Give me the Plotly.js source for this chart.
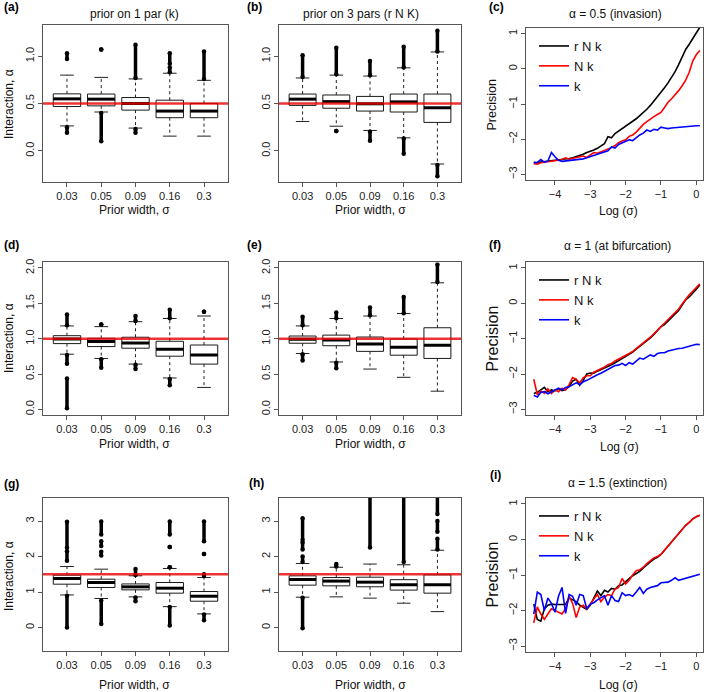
<!DOCTYPE html>
<html><head><meta charset="utf-8">
<script src="https://cdn.plot.ly/plotly-3.0.1.min.js"></script>
<style>html,body{margin:0;padding:0;background:#fff}#chart{width:709px;height:692px}</style>
</head><body><div id="chart"></div>
<script>
// ---------- DATA ----------
const priorWidths = ['0.03','0.05','0.09','0.16','0.3'];

// (a) prior on 1 par (k), alpha = 0.5
const a_q1  = [0.468, 0.475, 0.430, 0.350, 0.350];
const a_med = [0.549, 0.546, 0.500, 0.420, 0.420];
const a_q3  = [0.602, 0.600, 0.563, 0.535, 0.500];
const a_lo  = [0.263, 0.410, 0.240, 0.155, 0.155];
const a_hi  = [0.800, 0.776, 0.760, 0.820, 0.745];
const a_outCat  = [0, 0, 1, 1, 2, 2, 3, 3, 4];
const a_outFrom = [0.97, 0.19, 1.07, 0.10, 0.77, 0.19, 0.92, 0.83, 0.76];
const a_outTo   = [1.03, 0.25, 1.07, 0.40, 1.12, 0.23, 1.03, 0.88, 1.05];

// (b) prior on 3 pars (r N K), alpha = 0.5
const b_q1  = [0.480, 0.450, 0.420, 0.410, 0.300];
const b_med = [0.546, 0.520, 0.497, 0.517, 0.455];
const b_q3  = [0.600, 0.590, 0.575, 0.600, 0.600];
const b_lo  = [0.310, 0.260, 0.215, 0.137, -0.140];
const b_hi  = [0.770, 0.800, 0.790, 0.877, 1.045];
const b_outCat  = [0, 1, 1, 2, 2, 3, 3, 4, 4];
const b_outFrom = [0.78, 0.81, 0.21, 0.80, 0.105, 0.88, -0.03, 1.05, -0.27];
const b_outTo   = [1.01, 1.09, 0.21, 0.95, 0.20, 1.10, 0.13, 1.27, -0.15];

// (d) prior on 1 par, alpha = 1
const d_q1  = [0.930, 0.888, 0.865, 0.752, 0.640];
const d_med = [0.995, 0.960, 0.940, 0.850, 0.770];
const d_q3  = [1.042, 1.005, 1.020, 0.963, 0.910];
const d_lo  = [0.780, 0.720, 0.640, 0.444, 0.310];
const d_hi  = [1.180, 1.170, 1.240, 1.285, 1.320];
const d_outCat  = [0, 0, 0, 1, 1, 2, 2, 3, 3, 4];
const d_outFrom = [1.19, 0.645, 0.015, 1.20, 0.59, 1.25, 0.57, 1.29, 0.34, 1.38];
const d_outTo   = [1.34, 0.77, 0.435, 1.20, 0.71, 1.32, 0.63, 1.41, 0.43, 1.38];

// (e) prior on 3 pars, alpha = 1
const e_q1  = [0.935, 0.900, 0.820, 0.766, 0.720];
const e_med = [0.990, 0.980, 0.925, 0.880, 0.906];
const e_q3  = [1.037, 1.050, 1.023, 0.995, 1.154];
const e_lo  = [0.790, 0.670, 0.570, 0.453, 0.257];
const e_hi  = [1.180, 1.285, 1.320, 1.355, 1.790];
const e_outCat  = [0, 0, 1, 1, 2, 3, 4];
const e_outFrom = [1.19, 0.69, 1.29, 0.58, 1.33, 1.36, 1.80];
const e_outTo   = [1.31, 0.78, 1.37, 0.66, 1.44, 1.59, 2.05];

// (g) prior on 1 par, alpha = 1.5
const g_q1  = [1.223, 1.130, 1.063, 0.970, 0.743];
const g_med = [1.383, 1.270, 1.148, 1.110, 0.884];
const g_q3  = [1.477, 1.364, 1.230, 1.270, 1.016];
const g_lo  = [0.920, 0.820, 0.865, 0.590, 0.386];
const g_hi  = [1.720, 1.646, 1.460, 1.665, 1.410];
const g_outCat  = [0, 0, 0, 1, 1, 1, 1, 2, 2, 3, 3, 3, 3, 4, 4, 4, 4];
const g_outFrom = [2.25, 1.88, 0.00, 2.62, 2.30, 2.03, 0.10, 1.48, 0.74, 2.62, 2.27, 1.70, 0.06, 2.43, 2.07, 1.45, 0.21];
const g_outTo   = [2.98, 2.15, 0.90, 2.99, 2.43, 2.14, 0.76, 1.65, 0.85, 2.99, 2.27, 1.70, 0.58, 2.99, 2.07, 1.50, 0.37];

// (h) prior on 3 pars, alpha = 1.5
const h_q1  = [1.195, 1.176, 1.150, 1.056, 0.970];
const h_med = [1.355, 1.310, 1.280, 1.207, 1.207];
const h_q3  = [1.458, 1.410, 1.420, 1.350, 1.486];
const h_lo  = [0.856, 0.866, 0.830, 0.687, 0.450];
const h_hi  = [1.806, 1.700, 1.790, 1.770, 2.180];
const h_outCat  = [0, 0, 0, 0, 1, 2, 3, 4, 4, 4];
const h_outFrom = [2.47, 2.20, 1.85, -0.02, 1.72, 2.26, 1.85, 3.20, 2.70, 2.20];
const h_outTo   = [3.08, 2.40, 2.00, 0.84, 1.79, 3.70, 3.70, 3.70, 3.00, 2.50];

// true interaction values (red lines), per row
const trueAlpha = [0.5, 1.0, 1.5];

// Precision vs log(sigma)
const logSigma = [-4.6,-4.5,-4.4,-4.3,-4.2,-4.1,-4.0,-3.9,-3.8,-3.7,-3.6,-3.5,-3.4,-3.3,-3.2,-3.1,-3.0,-2.9,-2.8,-2.7,-2.6,-2.5,-2.4,-2.3,-2.2,-2.1,-2.0,-1.9,-1.8,-1.7,-1.6,-1.5,-1.4,-1.3,-1.2,-1.1,-1.0,-0.9,-0.8,-0.7,-0.6,-0.5,-0.4,-0.3,-0.2,-0.1,0.0,0.1];
const seriesNames = ['r N k', 'N k', 'k'];

// (c) alpha = 0.5 (invasion)
const c_rNk = [-2.66,-2.67,-2.65,-2.64,-2.63,-2.62,-2.61,-2.60,-2.58,-2.57,-2.55,-2.53,-2.50,-2.46,-2.43,-2.38,-2.35,-2.31,-2.26,-2.20,-2.13,-1.93,-1.96,-1.84,-1.77,-1.71,-1.64,-1.57,-1.50,-1.42,-1.33,-1.25,-1.15,-1.04,-0.92,-0.80,-0.67,-0.54,-0.40,-0.25,-0.08,0.12,0.32,0.55,0.70,0.85,1.00,1.18];
const c_Nk  = [-2.70,-2.71,-2.67,-2.66,-2.64,-2.63,-2.62,-2.60,-2.58,-2.53,-2.57,-2.55,-2.52,-2.50,-2.48,-2.52,-2.45,-2.38,-2.40,-2.36,-2.33,-2.30,-2.24,-2.18,-2.10,-2.05,-2.02,-1.92,-1.88,-1.80,-1.68,-1.58,-1.50,-1.42,-1.36,-1.30,-1.24,-1.10,-0.95,-0.85,-0.75,-0.62,-0.48,-0.32,-0.10,0.22,0.40,0.52];
const c_k   = [-2.67,-2.66,-2.58,-2.66,-2.62,-2.38,-2.50,-2.60,-2.63,-2.62,-2.62,-2.60,-2.58,-2.57,-2.56,-2.53,-2.50,-2.47,-2.44,-2.40,-2.37,-2.33,-2.22,-2.25,-2.15,-2.10,-2.07,-2.02,-2.04,-1.95,-1.88,-1.83,-1.74,-1.78,-1.72,-1.74,-1.66,-1.68,-1.70,-1.68,-1.67,-1.66,-1.66,-1.64,-1.63,-1.62,-1.62,-1.62];

// (f) alpha = 1 (at bifurcation)
const f_rNk = [-2.55,-2.52,-2.45,-2.38,-2.50,-2.45,-2.48,-2.42,-2.47,-2.44,-2.35,-2.20,-2.15,-2.32,-2.18,-2.00,-1.97,-1.98,-1.92,-1.88,-1.84,-1.78,-1.74,-1.68,-1.62,-1.56,-1.52,-1.44,-1.38,-1.30,-1.22,-1.16,-1.08,-0.98,-0.88,-0.76,-0.66,-0.60,-0.50,-0.42,-0.30,-0.20,-0.05,0.10,0.18,0.28,0.40,0.52];
const f_Nk  = [-2.15,-2.58,-2.48,-2.55,-2.42,-2.55,-2.45,-2.50,-2.40,-2.45,-2.30,-2.10,-2.15,-2.25,-2.10,-2.05,-2.05,-1.95,-1.90,-1.86,-1.80,-1.74,-1.70,-1.63,-1.58,-1.54,-1.48,-1.42,-1.36,-1.28,-1.20,-1.14,-1.06,-0.96,-0.86,-0.76,-0.64,-0.55,-0.45,-0.36,-0.26,-0.16,-0.02,0.12,0.24,0.34,0.45,0.55];
const f_k   = [-2.60,-2.65,-2.52,-2.50,-2.56,-2.50,-2.45,-2.40,-2.45,-2.38,-2.36,-2.30,-2.25,-2.30,-2.22,-2.18,-2.12,-2.08,-2.02,-1.98,-1.92,-1.88,-1.82,-1.76,-1.75,-1.70,-1.76,-1.68,-1.72,-1.62,-1.55,-1.58,-1.52,-1.46,-1.50,-1.42,-1.40,-1.40,-1.35,-1.32,-1.30,-1.28,-1.27,-1.24,-1.22,-1.17,-1.16,-1.17];

// (i) alpha = 1.5 (extinction)
const i_rNk = [-1.82,-2.25,-2.30,-1.95,-1.85,-1.82,-1.83,-1.83,-1.83,-1.83,-1.65,-1.70,-1.75,-1.85,-1.90,-1.97,-1.85,-1.65,-1.45,-1.58,-1.43,-1.48,-1.38,-1.40,-1.30,-1.28,-1.18,-1.10,-1.02,-0.95,-0.90,-0.80,-0.70,-0.63,-0.55,-0.50,-0.42,-0.30,-0.18,-0.05,0.07,0.17,0.30,0.40,0.48,0.58,0.64,0.68];
const i_Nk  = [-2.35,-1.90,-2.10,-2.25,-2.10,-1.95,-2.00,-2.05,-2.10,-1.95,-1.60,-1.80,-2.20,-1.90,-1.85,-1.95,-1.80,-1.68,-1.55,-1.75,-1.62,-1.55,-1.58,-1.40,-1.35,-1.10,-1.25,-1.15,-1.00,-0.88,-0.85,-0.78,-0.68,-0.60,-0.52,-0.48,-0.42,-0.30,-0.18,-0.05,0.07,0.18,0.30,0.40,0.48,0.58,0.64,0.68];
const i_k   = [-2.10,-1.48,-1.55,-2.00,-1.65,-1.80,-2.05,-1.60,-1.35,-2.08,-1.55,-1.60,-1.85,-1.55,-1.58,-1.95,-1.82,-1.78,-1.70,-1.65,-1.58,-1.85,-1.58,-1.72,-1.75,-1.50,-1.58,-1.55,-1.60,-1.48,-1.35,-1.52,-1.40,-1.35,-1.32,-1.30,-1.22,-1.20,-1.20,-1.15,-1.08,-1.15,-1.12,-1.08,-1.05,-1.03,-1.00,-0.98];

// ---------- LAYOUT HELPERS ----------
const W = 709, H = 692;
const FONT = 'Liberation Sans, Arial, Helvetica, sans-serif';
const dxp = (l, r) => [l / W, r / W];
const dyp = (t, b) => [1 - b / H, 1 - t / H];
const px = v => v / W, py = v => 1 - v / H;

const traces = [];
const shapes = [];
const annotations = [];
const layout = {
  width: W, height: H, margin: {l: 0, r: 0, t: 0, b: 0},
  paper_bgcolor: '#fff', plot_bgcolor: '#fff',
  font: {family: FONT, size: 11, color: '#222'},
  showlegend: true, shapes, annotations
};

function axisBase() {
  return {
    showline: true, mirror: true, linecolor: '#555', linewidth: 1,
    ticks: 'outside', ticklen: 4, tickcolor: '#555', tickwidth: 1,
    showgrid: false, zeroline: false, fixedrange: true,
    tickfont: {family: FONT, size: 11, color: '#222'}
  };
}

function boxPanel(n, q1, med, q3, lo, hi, oc, of, ot, alpha, dom, yr, dtick, fmt) {
  const sfx = n === 1 ? '' : String(n);
  const xa = 'x' + sfx, ya = 'y' + sfx;
  const idx = priorWidths.map((_, i) => i);
  layout['xaxis' + sfx] = Object.assign(axisBase(), {
    domain: dom.x, range: [-0.7, 4.7], tickvals: idx, ticktext: priorWidths, anchor: ya
  });
  layout['yaxis' + sfx] = Object.assign(axisBase(), {
    domain: dom.y, range: yr, tick0: 0, dtick: dtick, tickformat: fmt, tickangle: -90, anchor: xa
  });
  const common = {xaxis: xa, yaxis: ya, showlegend: false, hoverinfo: 'skip'};
  // boxes
  traces.push(Object.assign({
    type: 'box', x: idx, q1: q1, median: med, q3: q3, lowerfence: q1, upperfence: q3,
    width: 0.8, whiskerwidth: 0, boxpoints: false,
    fillcolor: 'rgba(0,0,0,0)', line: {color: '#1a1a1a', width: 1}
  }, common));
  // whiskers (dashed), staples, thick medians
  const wx = [], wy = [], cx = [], cy = [], mx = [], my = [];
  idx.forEach(i => {
    wx.push(i, i, null, i, i, null);
    wy.push(q3[i], hi[i], null, q1[i], lo[i], null);
    cx.push(i - 0.2, i + 0.2, null, i - 0.2, i + 0.2, null);
    cy.push(hi[i], hi[i], null, lo[i], lo[i], null);
    mx.push(i - 0.4, i + 0.4, null);
    my.push(med[i], med[i], null);
  });
  traces.push(Object.assign({type: 'scatter', mode: 'lines', x: wx, y: wy,
    line: {color: '#222', width: 1, dash: '3px,3px'}}, common));
  traces.push(Object.assign({type: 'scatter', mode: 'lines', x: cx, y: cy,
    line: {color: '#222', width: 1}}, common));
  traces.push(Object.assign({type: 'scatter', mode: 'lines', x: mx, y: my,
    line: {color: '#000', width: 3}}, common));
  // outliers
  const ox = [], oy = [];
  oc.forEach((c, k) => { ox.push(c, c, null); oy.push(of[k], ot[k], null); });
  traces.push(Object.assign({type: 'scatter', mode: 'lines+markers', x: ox, y: oy,
    line: {color: '#000', width: 3.5}, marker: {color: '#000', size: 4.5}}, common));
  // true alpha
  shapes.push({type: 'line', xref: xa + ' domain', x0: 0, x1: 1, yref: ya, y0: alpha, y1: alpha,
    line: {color: 'rgba(232,0,0,0.8)', width: 2.5}, layer: 'above'});
}

const lineColors = ['#000000', '#ff0000', '#0000ff'];
function linePanel(n, series, dom, legendId, legPos) {
  const sfx = String(n);
  const xa = 'x' + sfx, ya = 'y' + sfx;
  layout['xaxis' + sfx] = Object.assign(axisBase(), {
    domain: dom.x, range: [-4.82, 0.19], tick0: 0, dtick: 1, anchor: ya
  });
  layout['yaxis' + sfx] = Object.assign(axisBase(), {
    domain: dom.y, range: [-3.16, 1.16], tick0: 0, dtick: 1, tickangle: -90, anchor: xa
  });
  series.forEach((s, k) => {
    traces.push({type: 'scatter', mode: 'lines', x: logSigma, y: s, name: seriesNames[k],
      xaxis: xa, yaxis: ya, legend: legendId, hoverinfo: 'skip',
      line: {color: lineColors[k], width: 1.6}});
  });
  layout[legendId] = {
    x: px(legPos[0]), y: py(legPos[1]), xanchor: 'left', yanchor: 'top',
    bgcolor: 'rgba(0,0,0,0)', borderwidth: 0, itemwidth: 30, tracegroupgap: 0,
    traceorder: 'normal', font: {family: FONT, size: 13, color: '#111'}
  };
}

function ann(text, x, y, opt) {
  annotations.push(Object.assign({
    text: text, xref: 'paper', yref: 'paper', x: px(x), y: py(y),
    xanchor: 'center', yanchor: 'middle', showarrow: false,
    font: {family: FONT, size: 12, color: '#111'}
  }, opt || {}));
}

// ---------- PANELS ----------
const colX = [dxp(43, 228), dxp(279, 461), dxp(526, 703)];
boxPanel(1, a_q1, a_med, a_q3, a_lo, a_hi, a_outCat, a_outFrom, a_outTo, trueAlpha[0],
  {x: colX[0], y: dyp(25, 182)}, [-0.33, 1.33], 0.5, '.1f');
boxPanel(2, b_q1, b_med, b_q3, b_lo, b_hi, b_outCat, b_outFrom, b_outTo, trueAlpha[0],
  {x: colX[1], y: dyp(25, 182)}, [-0.33, 1.33], 0.5, '.1f');
linePanel(3, [c_rNk, c_Nk, c_k], {x: colX[2], y: dyp(28, 180)}, 'legend', [534, 31]);

boxPanel(4, d_q1, d_med, d_q3, d_lo, d_hi, d_outCat, d_outFrom, d_outTo, trueAlpha[1],
  {x: colX[0], y: dyp(262.3, 415)}, [-0.08, 2.08], 0.5, '.1f');
boxPanel(5, e_q1, e_med, e_q3, e_lo, e_hi, e_outCat, e_outFrom, e_outTo, trueAlpha[1],
  {x: colX[1], y: dyp(262.3, 415)}, [-0.08, 2.08], 0.5, '.1f');
linePanel(6, [f_rNk, f_Nk, f_k], {x: colX[2], y: dyp(262.3, 415)}, 'legend2', [534, 265]);

boxPanel(7, g_q1, g_med, g_q3, g_lo, g_hi, g_outCat, g_outFrom, g_outTo, trueAlpha[2],
  {x: colX[0], y: dyp(497.7, 651)}, [-0.66, 3.66], 1, 'd');
boxPanel(8, h_q1, h_med, h_q3, h_lo, h_hi, h_outCat, h_outFrom, h_outTo, trueAlpha[2],
  {x: colX[1], y: dyp(497.7, 651)}, [-0.66, 3.66], 1, 'd');
linePanel(9, [i_rNk, i_Nk, i_k], {x: colX[2], y: dyp(498.3, 651.7)}, 'legend3', [534, 501]);

// ---------- TEXT ----------
const bold = {family: FONT, size: 12, color: '#000', weight: 'bold'};
const letters = [['(a)', 2, 7], ['(b)', 245, 7], ['(c)', 487, 7],
                 ['(d)', 2, 245], ['(e)', 245, 245], ['(f)', 487, 245],
                 ['(g)', 2, 484], ['(h)', 247, 483], ['(i)', 488, 475]];
letters.forEach(l => ann('<b>' + l[0] + '</b>', l[1], l[2], {xanchor: 'left', font: bold}));

ann('prior on 1 par (k)', 134, 14);
ann('prior on 3 pars (r N K)', 361, 14);
ann('α = 0.5 (invasion)', 615, 14);
ann('α = 1 (at bifurcation)', 617, 246);
ann('α = 1.5 (extinction)', 617, 483);

[[210], [443.5], [684.5]].forEach(r => {
  ann('Prior width, σ', 134, r[0]);
  ann('Prior width, σ', 370, r[0]);
});
ann('Log (σ)', 618, 211);
ann('Log (σ)', 619, 447);
ann('Log (σ)', 618, 684.5);

ann('Interaction, α', 9, 104, {textangle: -90});
ann('Interaction, α', 9, 338, {textangle: -90});
ann('Interaction, α', 9, 576, {textangle: -90});
ann('Precision', 491.5, 105, {textangle: -90, font: {family: FONT, size: 12.5, color: '#111'}});
ann('Precision', 491.5, 339, {textangle: -90, font: {family: FONT, size: 16, color: '#111'}});
ann('Precision', 491.5, 575, {textangle: -90, font: {family: FONT, size: 16, color: '#111'}});

Plotly.newPlot('chart', traces, layout, {staticPlot: true, displayModeBar: false});
</script>
</body></html>
